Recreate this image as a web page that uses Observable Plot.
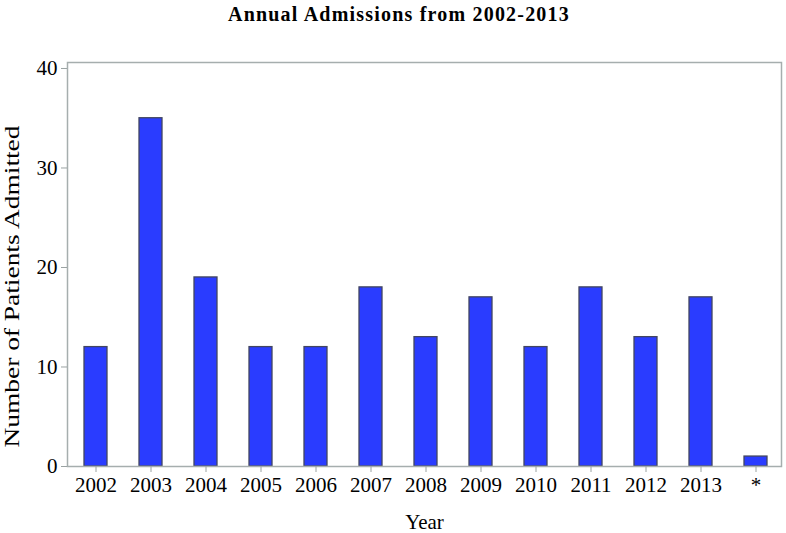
<!DOCTYPE html>
<html>
<head>
<meta charset="utf-8">
<script src="https://cdn.jsdelivr.net/npm/d3@7"></script>
<script src="https://cdn.jsdelivr.net/npm/@observablehq/plot@0.6"></script>
<style>
  body { margin: 0; background: #fff; }
  #title { height: 40px; width: 786px; box-sizing: border-box; padding-left: 12px; text-align: center; font-family: "Liberation Serif", "Times New Roman", serif; font-weight: bold; font-size: 20px; letter-spacing: 1.2px; line-height: 28px; color: #000; }
  svg { display: block; }
</style>
</head>
<body>
<div id="title">Annual Admissions from 2002-2013</div>
<div id="chart"></div>
<script>
const years = ["2002","2003","2004","2005","2006","2007","2008","2009","2010","2011","2012","2013","*"];
const admitted = [12, 35, 19, 12, 12, 18, 13, 17, 12, 18, 13, 17, 1];
const yTicks = [0, 10, 20, 30, 40];
const xLabel = "Year";
const yLabel = "Number of Patients Admitted";

const data = years.map((y, i) => ({year: y, value: admitted[i]}));

const chart = Plot.plot({
  width: 786,
  height: 493,
  marginLeft: 67,
  marginRight: 5,
  marginTop: 22,
  marginBottom: 67,
  style: { fontFamily: "'Liberation Serif', 'Times New Roman', serif", fontSize: "21px", background: "#fff", color: "#000" },
  x: { domain: years, paddingInner: 0.58, paddingOuter: 0.27, align: 0.56 },
  y: { domain: [0, 40.6] },
  marks: [
    Plot.barY(data, { x: "year", y: "value", fill: "#2a3cff", stroke: "#424660", strokeWidth: 1.3 }),
    Plot.frame({ stroke: "#a6aeae", strokeWidth: 1.5 }),
    Plot.axisY({ ticks: yTicks, tickSize: 6, tickPadding: 4, stroke: "#9aa2a2", fill: "#000", label: null, fontSize: 21 }),
    Plot.axisX({ tickSize: 6, tickPadding: 5, stroke: "#9aa2a2", fill: "#000", label: null, fontSize: 21 }),
    Plot.text([xLabel], { frameAnchor: "bottom", text: d => d, lineAnchor: "bottom", dy: 62, fontSize: 21, fill: "#000" }),
    Plot.text([yLabel], { frameAnchor: "left", text: d => d, rotate: -90, textAnchor: "middle", lineAnchor: "middle", dx: -55, dy: 22, fontSize: 21, fill: "#000", className: "ylab" })
  ]
});
document.getElementById("chart").appendChild(chart);
// stretch the rotated y label to its length in the reference
chart.querySelectorAll(".ylab text").forEach(t => { t.setAttribute("textLength", 322); t.setAttribute("lengthAdjust", "spacingAndGlyphs"); });
</script>
</body>
</html>
